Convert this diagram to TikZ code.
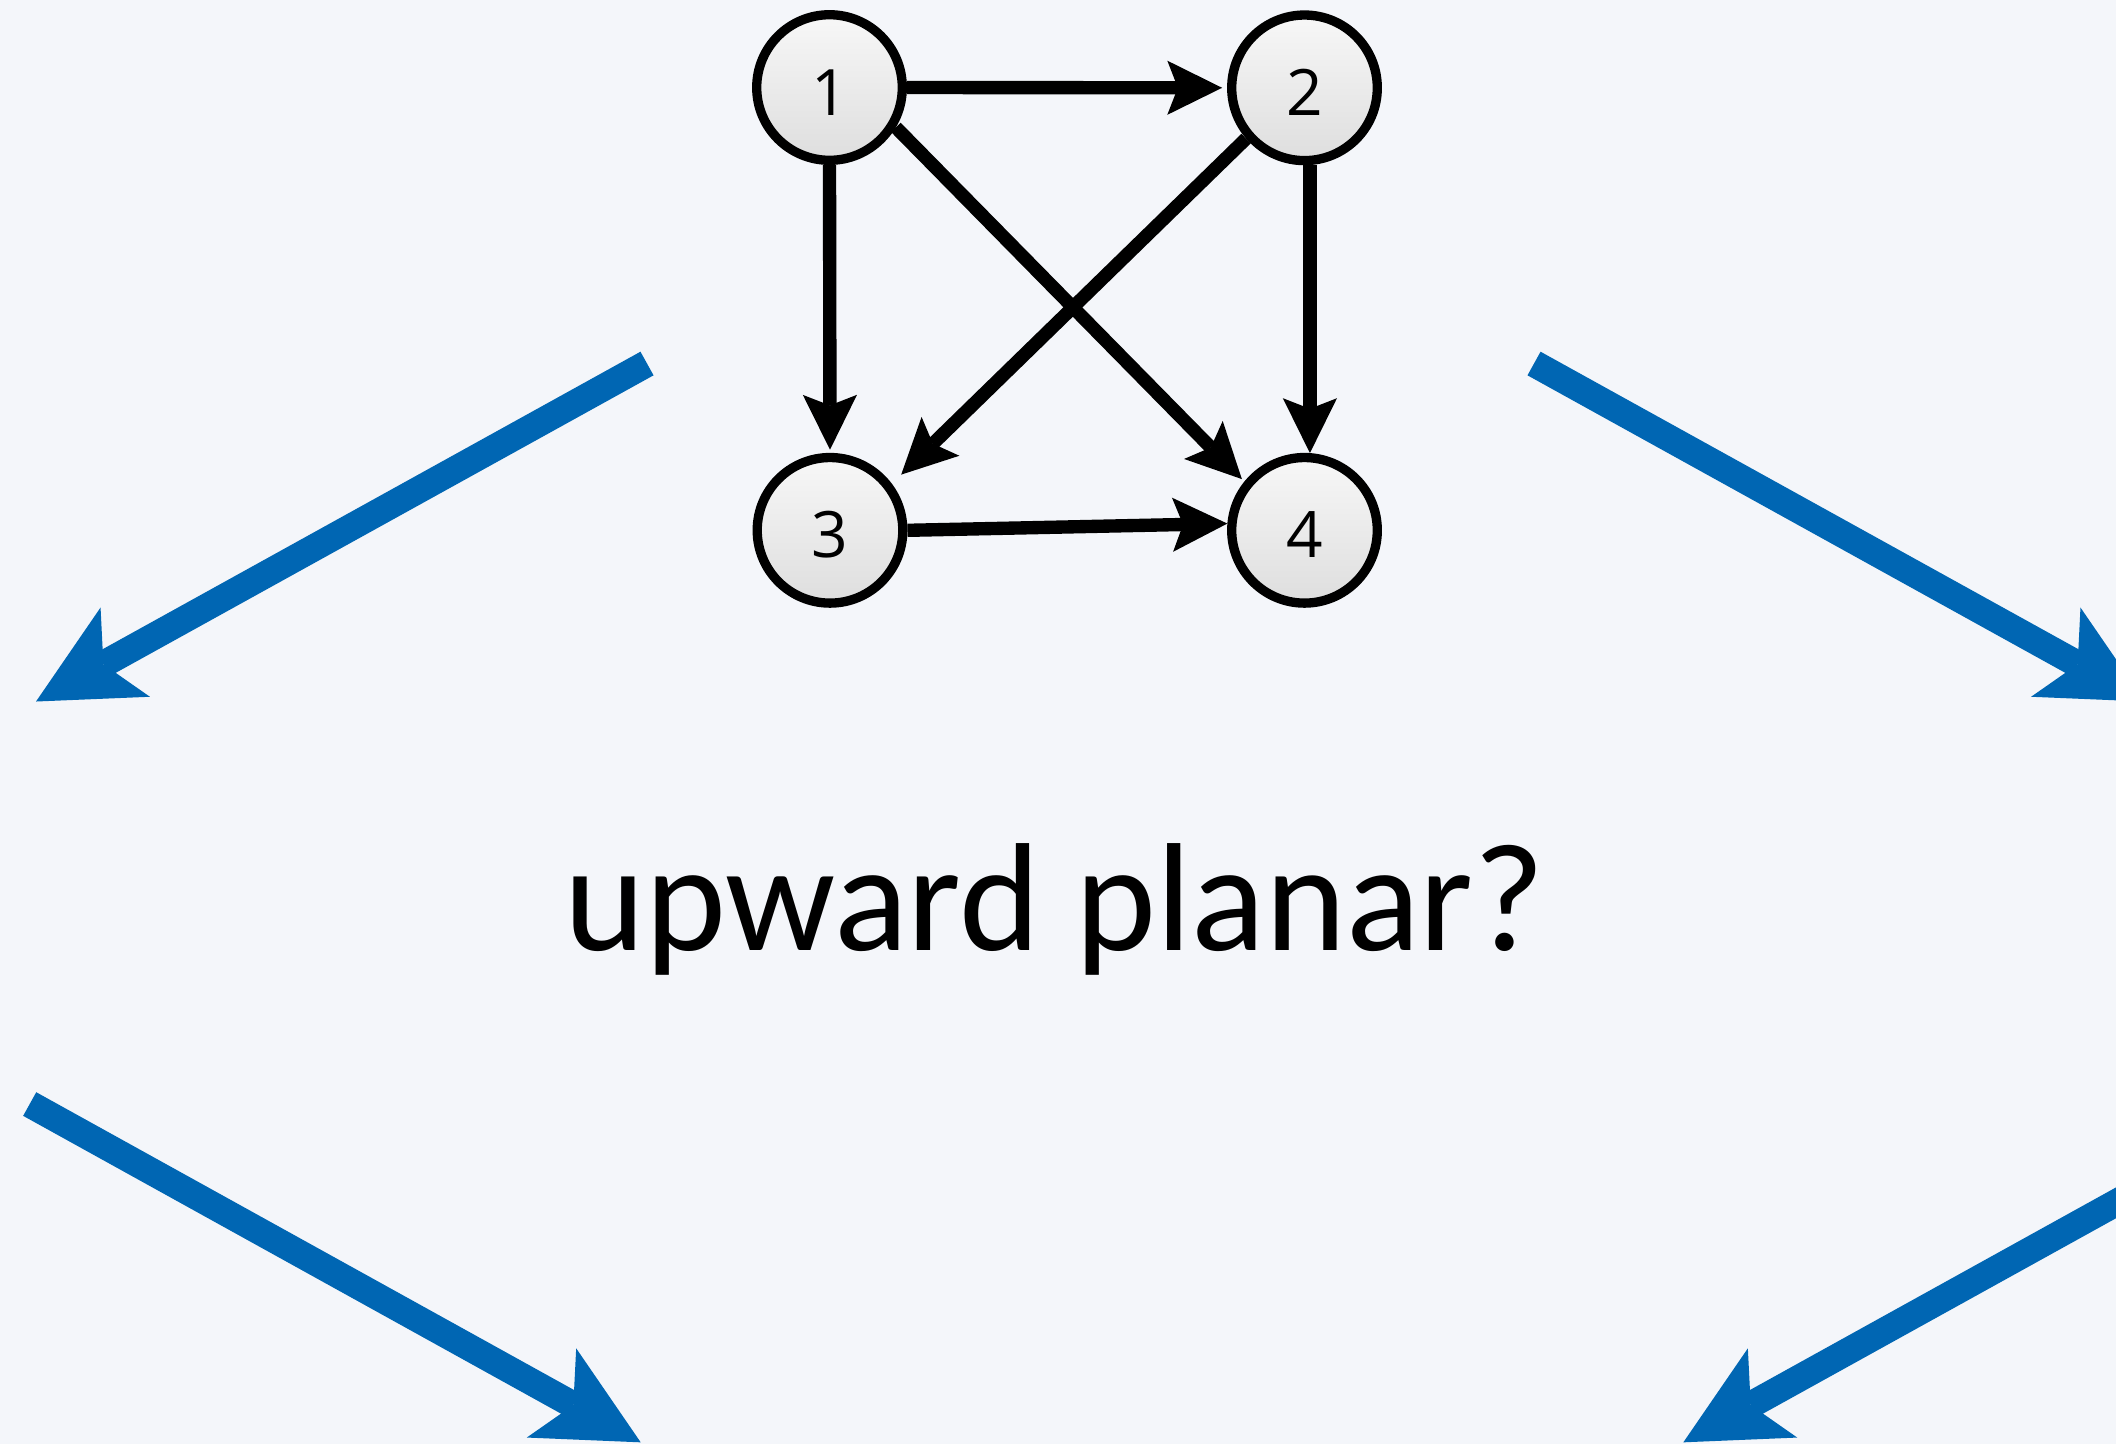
\documentclass[tikz,border=0pt]{standalone}
\usepackage{fontspec}
\setmainfont{Carlito}
\newfontfamily\digitfont{Open Sans}
\usetikzlibrary{arrows.meta}
\definecolor{bgcol}{HTML}{F4F6FA}
\definecolor{bluecol}{HTML}{0066B3}
\tikzset{
  vert/.style={circle, draw=black, line width=2.65pt, minimum size=1.455cm, inner sep=0pt,
    top color=white!97!black, bottom color=black!13,
    font=\digitfont\fontsize{18.2}{18.2}\selectfont, text height=16pt, text depth=0.3pt},
  edgeln/.style={draw=black, line width=3.8pt,
    -{Stealth[length=15.6pt, width=15.4pt, inset=3pt, line width=0pt]}},
  bluearrow/.style={draw=bluecol, line width=7.68pt,
    -{Stealth[length=29pt, width=29pt, inset=7.1pt, line width=0pt]}},
  qlabel/.style={font=\fontsize{43.8}{50}\selectfont, anchor=base, inner sep=0pt}
}
\begin{document}
\begin{tikzpicture}[x=0.01cm, y=-0.01cm]
\path[use as bounding box] (0,0) rectangle (2116,1444);
\fill[bgcol] (0,0) rectangle (2116,1444);
\clip (0,0) rectangle (2116,1444);

% graph nodes
\node[vert] (n1) at (829.5,87.5) {1};
\node[vert] (n2) at (1304.5,87.8) {2};
\node[vert] (n3) at (830,530.3) {3};
\node[vert] (n4) at (1304.5,530.3) {4};

% graph edges
\draw[edgeln, shorten >=1.4pt] (n1.east) -- (n2.west);
\draw[edgeln, shorten >=0.9pt] (n1.south) -- (n3.north);
\draw[edgeln, shorten >=1pt] (n1.-31.5) -- (n4.141);
\draw[edgeln, shorten >=3.7pt] (n2.221.8) -- (n3.37);
\draw[edgeln] (n2.-86) -- (n4.86.5);
\draw[edgeln] (n3.east) -- (n4.175.5);

% question
\node[qlabel] (q) at (1055,950.7) {upward planar?};

% blue arrows
\coordinate (aS) at (647,363.5);
\coordinate (aT) at (36,701.5);
\coordinate (bS) at (1534,363.5);
\coordinate (bT) at (2145,701.5);
\coordinate (cS) at (29.7,1104);
\coordinate (cT) at (640.7,1442.3);
\coordinate (dS) at (2294.3,1104.1);
\coordinate (dT) at (1683.3,1442.3);
\draw[bluearrow] (aS) -- (aT);
\draw[bluearrow] (bS) -- (bT);
\draw[bluearrow] (cS) -- (cT);
\draw[bluearrow] (dS) -- (dT);
\end{tikzpicture}
\end{document}
